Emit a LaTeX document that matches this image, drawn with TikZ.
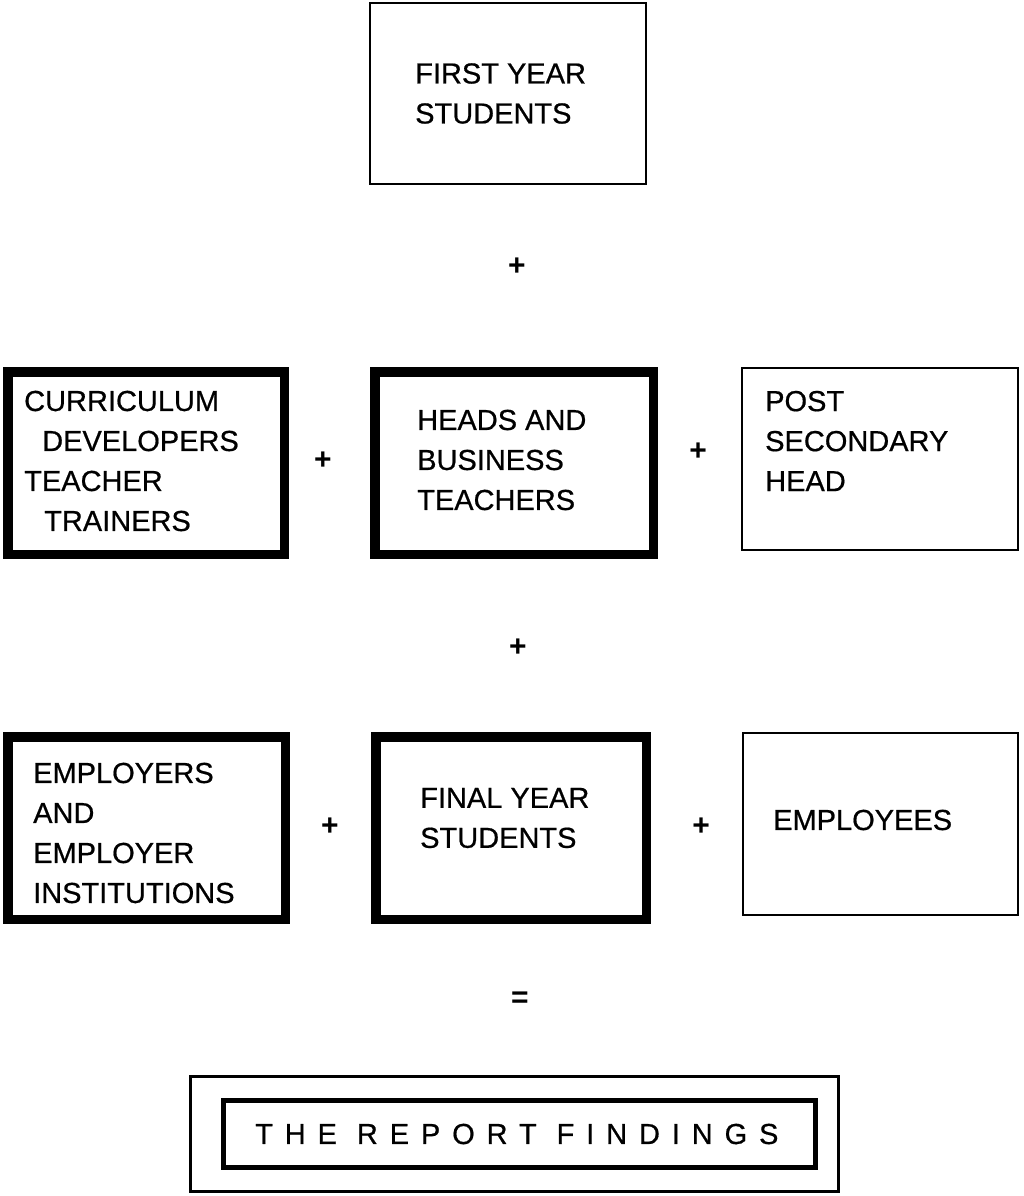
\documentclass[tikz,border=0pt]{standalone}
\usepackage{fontspec}
\setmainfont{Liberation Sans}

\tikzset{
  thinbox/.style={draw,line width=2.4pt,inner sep=0pt},
  thickbox/.style={draw,line width=9.5pt,inner sep=0pt},
  boxtext/.style={anchor=west,align=left,inner sep=0pt,font=\fontsize{29}{40}\selectfont\addfontfeature{FakeBold=0.6}},
  op/.style={inner sep=0pt,font=\fontsize{30}{30}\selectfont\bfseries},
}

\begin{document}
\begin{tikzpicture}[x=1pt,y=-1pt]
      \useasboundingbox (0,0) rectangle (1023,1196);
      % boxes
      \node[thinbox,minimum width=275.6pt,minimum height=180.6pt] (first) at (508,93.5) {};
      \node[thickbox,minimum width=276.5pt,minimum height=182.5pt] (curr) at (146,463) {};
      \node[thickbox,minimum width=278.5pt,minimum height=182.5pt] (heads) at (514,463) {};
      \node[thinbox,minimum width=275.6pt,minimum height=181.6pt] (post) at (880,459) {};
      \node[thickbox,minimum width=277.5pt,minimum height=182.5pt] (empl) at (146.5,828) {};
      \node[thickbox,minimum width=270.5pt,minimum height=182.5pt] (final) at (511,828) {};
      \node[thinbox,minimum width=274.6pt,minimum height=181.6pt] (emps) at (880.5,824) {};
      \node[draw,line width=3pt,minimum width=648pt,minimum height=115pt] (outer) at (514.5,1134) {};
      \node[draw,line width=5pt,minimum width=592pt,minimum height=67pt] (inner) at (519.5,1134) {};
      % texts
      \node[boxtext] (firsttxt) at (415,93.5) {FIRST YEAR\\STUDENTS};
      \node[boxtext] (currtxt) at (24,461) {CURRICULUM\\\hspace*{18pt}DEVELOPERS\\TEACHER\\\hspace*{20pt}TRAINERS};
      \node[boxtext] (headstxt) at (417,460) {HEADS AND\\BUSINESS\\TEACHERS};
      \node[boxtext] (posttxt) at (765,441) {POST\\SECONDARY\\HEAD};
      \node[boxtext] (empltxt) at (33,833) {EMPLOYERS\\AND\\EMPLOYER\\INSTITUTIONS};
      \node[boxtext] (finaltxt) at (420,818) {FINAL YEAR\\STUDENTS};
      \node[boxtext] (empstxt) at (773,820) {EMPLOYEES};
      \node[boxtext] (findtxt) at (255,1134) {\addfontfeature{LetterSpace=41}THE REPORT FINDINGS};
      % operators
      \node[op] (plusa) at (517,267) {+};
      \node[op] (plusb) at (323,461) {+};
      \node[op] (plusc) at (698,452) {+};
      \node[op] (plusd) at (518,648) {+};
      \node[op] (pluse) at (330,827) {+};
      \node[op] (plusf) at (701,827) {+};
      \node[op] (equal) at (520,1000) {=};
    \end{tikzpicture}
\end{document}
